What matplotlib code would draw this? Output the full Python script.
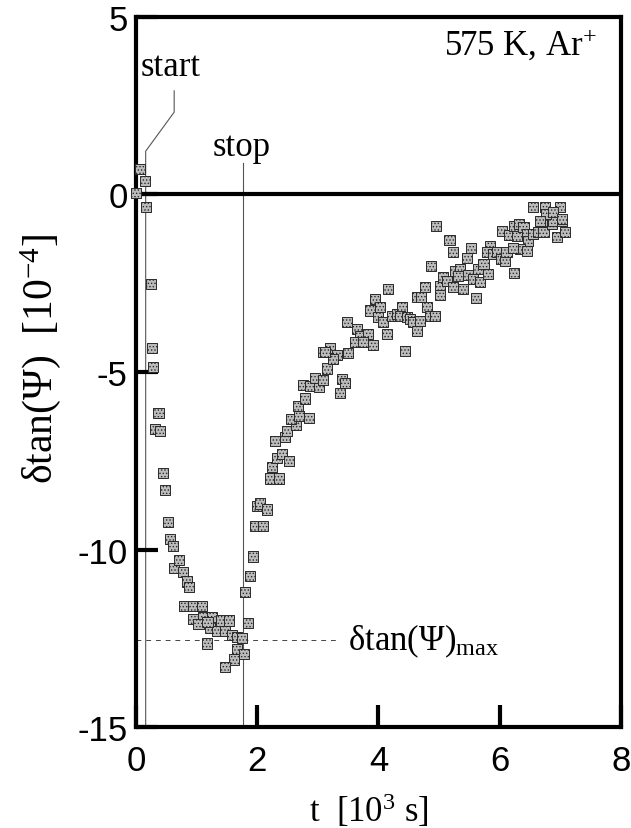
import matplotlib
matplotlib.use('Agg')
import matplotlib.pyplot as plt

plt.rcParams['mathtext.fontset'] = 'custom'
plt.rcParams['mathtext.rm'] = 'Liberation Serif'
plt.rcParams['mathtext.it'] = 'Liberation Serif:italic'
plt.rcParams['hatch.linewidth'] = 0.6
plt.rcParams['axes.unicode_minus'] = False

# time in 10^3 s, signal in 10^-4
t = [0.00, 0.07, 0.15, 0.17, 0.25, 0.26, 0.28, 0.31, 0.37, 0.40, 0.45, 0.48,
     0.53, 0.56, 0.61, 0.63, 0.71, 0.78, 0.84, 0.87, 0.79, 0.94, 1.09, 0.94,
     1.10, 1.25, 1.40, 1.54, 1.22, 1.34, 1.47, 1.58, 1.17, 1.67, 1.75, 1.67,
     1.78, 1.62, 1.47, 1.03, 1.18,
     1.85, 1.80, 1.88, 1.93, 1.96, 2.09, 2.00, 2.05, 2.16, 2.21, 2.36, 2.24,
     2.33, 2.41, 2.52, 2.29, 2.46, 2.49, 2.64, 2.56, 2.69, 2.85, 2.67, 2.79,
     2.76, 2.87, 3.02, 2.95, 3.09, 3.15, 3.09, 3.20, 3.32, 3.25, 3.12, 3.40,
     3.45, 3.37, 3.50,
     3.48, 3.65, 3.70, 3.83, 3.91, 4.14, 3.61, 3.75, 3.94, 3.86, 4.03, 3.99,
     4.08, 4.22, 4.31, 4.39, 4.36, 4.47, 4.52, 4.57, 4.64, 4.80, 4.85, 4.93,
     4.69, 4.44, 4.16, 4.77, 4.64, 4.70, 5.02, 5.02, 5.07, 5.13, 5.23, 5.40,
     5.26, 5.35, 5.31, 5.48, 5.56, 5.68, 5.64, 5.73, 5.81, 5.61, 4.87, 4.95,
     5.17, 5.23, 5.53, 5.46,
     5.84, 5.79, 5.89, 5.96, 6.02, 6.09, 6.11, 6.04, 6.16, 6.29, 6.24, 6.32,
     6.39, 6.45, 6.47, 6.34, 6.45, 6.22, 6.24, 6.55, 6.63, 6.72, 6.70, 6.86,
     6.88, 7.03, 6.95, 7.08, 6.55, 6.75, 7.00, 6.76, 6.88, 7.03, 6.67]
dtan = [0.04, 0.72, 0.39, -0.35, -2.52, -4.32, -4.86, -6.60, -6.15, -6.66, -7.85, -8.32,
        -9.22, -9.70, -9.90, -10.52, -10.30, -10.63, -10.90, -11.05, -11.60, -11.60, -11.60, -11.96,
        -11.90, -11.90, -12.00, -12.00, -12.20, -12.30, -12.30, -12.40, -12.65, -12.47, -12.50, -12.80,
        -12.95, -13.10, -13.30, -12.10, -12.05,
        -12.07, -11.20, -10.75, -10.20, -9.33, -9.33, -8.78, -8.70, -8.87, -8.00, -8.00, -7.68,
        -7.42, -7.31, -7.50, -6.94, -6.83, -6.66, -6.49, -6.32, -6.24, -6.30, -5.96, -5.75,
        -5.37, -5.39, -5.42, -5.17, -5.23, -4.90, -4.44, -4.32, -4.52, -4.63, -4.44, -5.20,
        -5.30, -5.60, -4.47,
        -3.59, -3.79, -3.99, -3.93, -4.24, -3.93, -4.15, -4.15, -2.94, -3.27, -3.17, -3.45,
        -3.59, -3.42, -3.37, -3.17, -3.42, -3.45, -3.51, -3.59, -3.85, -3.17, -3.42, -3.42,
        -3.56, -4.41, -2.66, -2.61, -2.89, -2.89, -2.58, -2.83, -2.32, -2.44, -2.61, -2.66,
        -2.15, -2.10, -2.30, -2.27, -2.38, -2.47, -2.10, -1.96, -2.24, -2.92, -2.01, -0.89,
        -1.28, -1.62, -1.51, -1.79,
        -1.45, -1.62, -1.68, -1.62, -1.82, -1.87, -1.62, -1.03, -1.14, -1.17, -0.89, -0.83,
        -0.92, -1.11, -1.31, -1.54, -1.59, -1.51, -2.21, -1.11, -1.06, -1.06, -0.77, -0.83,
        -0.75, -0.75, -1.20, -1.06, -0.35, -0.35, -0.35, -0.55, -0.49, -0.69, -0.75]

t_start = 0.16
t_stop = 1.77
dtan_max = -12.55

xticks = [0, 2, 4, 6, 8]
yticks = [5, 0, -5, -10, -15]

fig = plt.figure(figsize=(6.31, 8.29), dpi=100)
ax = fig.add_axes([0.2155, 0.1218, 0.7686, 0.8565])

serif = 'Liberation Serif'
sans = 'Liberation Sans'

# start / stop markers
ax.plot([t_start, t_start, 0.63, 0.63], [-15, 1.22, 2.32, 2.92], color='#555555', lw=0.8, zorder=1)
ax.plot([t_stop, t_stop], [-15, 0.9], color='#555555', lw=0.8, zorder=1)
ax.plot([0, 3.37], [dtan_max, dtan_max], color='#444444', lw=0.7, ls=(0, (5, 5)), zorder=1)
ax.axhline(0, color='black', lw=3, zorder=2)

ax.scatter(t, dtan, marker='s', s=55, facecolor='#bcbcbc', edgecolor='#2a2a2a',
           linewidths=0.7, hatch='.....', zorder=3, clip_on=False)

ax.text(0.08, 3.6, 'start', family=serif, fontsize=25, ha='left', va='center')
ax.text(1.75, 1.1, 'stop', family=serif, fontsize=25, ha='center', va='baseline')
ax.text(7.6, 4.25, '575 K, Ar$^{+}$', family=serif, fontsize=25, ha='right', va='center')
ax.text(3.5, dtan_max, 'δtan(Ψ)$_{\\rm max}$', family=serif, fontsize=25, ha='left', va='center')

ax.set_xlim(0, 8)
ax.set_ylim(-15, 5)
ax.set_xticks(xticks)
ax.set_yticks(yticks)
ax.tick_params(direction='in', length=16, width=3, labelsize=25, top=False, right=False)
ax.tick_params(axis='x', pad=12)
ax.tick_params(axis='y', pad=6)
for lab in ax.get_xticklabels() + ax.get_yticklabels():
    lab.set_family(sans)
for sp in ax.spines.values():
    sp.set_linewidth(3)

ax.set_xlabel('t  [10$^{3}$ s]', family=serif, fontsize=25)
ax.set_ylabel('δtan(Ψ)  [10$^{-4}$]', family=serif, fontsize=30)
ax.xaxis.set_label_coords(0.48, -0.09)
ax.yaxis.set_label_coords(-0.15, 0.52)

fig.savefig('out.png', dpi=100)
